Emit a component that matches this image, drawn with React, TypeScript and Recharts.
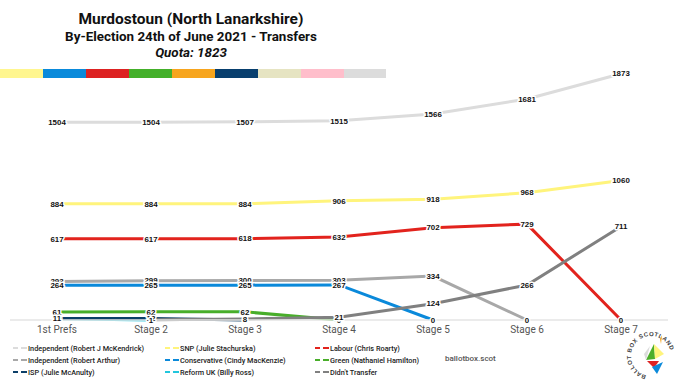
import React from 'react';
import { LineChart, Line, XAxis, YAxis } from 'recharts';

const categories = ['1st Prefs', 'Stage 2', 'Stage 3', 'Stage 4', 'Stage 5', 'Stage 6', 'Stage 7'];
const mckendrick = [1504, 1504, 1507, 1515, 1566, 1681, 1873];
const snp = [884, 884, 884, 906, 918, 968, 1060];
const labour = [617, 617, 618, 632, 702, 729, 0];
const arthur = [293, 299, 300, 303, 334, 0, null];
const conservative = [264, 265, 265, 267, 0, null, null];
const green = [61, 62, 62, 0, null, null, null];
const isp = [11, 12, 0, null, null, null, null];
const reform = [10, 0, null, null, null, null, null];
const didntTransfer = [null, 1, 8, 21, 124, 266, 711];

const seriesNames = [
  'Independent (Robert J McKendrick)',
  'SNP (Julie Stachurska)',
  'Labour (Chris Roarty)',
  'Independent (Robert Arthur)',
  'Conservative (Cindy MacKenzie)',
  'Green (Nathaniel Hamilton)',
  'ISP (Julie McAnulty)',
  'Reform UK (Billy Ross)',
  "Didn't Transfer",
];
const seriesColors = ['#dcdcdc', '#fff47c', '#e2231d', '#a8a8a8', '#0a89da', '#48ae2a', '#0c3f68', '#22c6dd', '#808080'];
const seriesValues = [mckendrick, snp, labour, arthur, conservative, green, isp, reform, didntTransfer];
const drawOrder = [0, 1, 2, 3, 4, 5, 7, 6, 8];

const stripeColors = ['#fff68f', '#0a8adb', '#dd2222', '#44b02a', '#f7a51e', '#083f6e', '#e6e4c2', '#ffbecb', '#dcdcdc'];

const data = categories.map((name, i) => {
  const row: any = { name };
  seriesValues.forEach((vals, s) => {
    row['s' + s] = vals[i];
  });
  return row;
});

const renderLabel = (props: any) => {
  const { x, y, value, index } = props;
  if (value === null || value === undefined || x == null || y == null) return null;
  const txt = String(value);
  return (
    <text
      key={'lb' + index}
      x={x}
      y={y}
      dy="0.35em"
      textAnchor="middle"
      fontSize={7.9}
      fontWeight="bold"
      fontFamily="'Liberation Sans', Arial, sans-serif"
      fill="#111"
      stroke="#ffffff"
      strokeWidth={3}
      strokeLinejoin="round"
      paintOrder="stroke"
    >
      {txt}
    </text>
  );
};

const LegendIcon = ({ color }: { color: string }) => (
  <svg width={14} height={6} style={{ display: 'block' }}>
    <line x1={0} y1={3} x2={5} y2={3} stroke={color} strokeWidth={2} />
    <line x1={8} y1={3} x2={14} y2={3} stroke={color} strokeWidth={2} />
  </svg>
);

const Logo = () => {
  const cx = 651, cy = 356, r = 20;
  const a0 = (100 * Math.PI) / 180;
  const sx = cx + r * Math.cos(a0), sy = cy + r * Math.sin(a0);
  const ex = cx - r * Math.cos(a0), ey = cy - r * Math.sin(a0);
  return (
    <svg width={678} height={381} style={{ position: 'absolute', left: 0, top: 0, pointerEvents: 'none' }}>
      <defs>
        <path id="logoCircle" d={`M ${sx} ${sy} A ${r} ${r} 0 1 1 ${ex} ${ey} A ${r} ${r} 0 1 1 ${sx} ${sy}`} />
      </defs>
      <text fontSize={6} fontWeight="bold" fontFamily="'Liberation Sans', Arial, sans-serif" fill="#444" letterSpacing={0.5}>
        <textPath href="#logoCircle" startOffset="1%">BALLOT BOX SCOTLAND</textPath>
      </text>
      <polygon points={`${cx - 5},${cy + 4} ${cx + 3},${cy - 12} ${cx + 4},${cy + 3}`} fill="#4cae2a" />
      <polygon points={`${cx + 3},${cy - 12} ${cx + 13},${cy - 2} ${cx + 4},${cy + 3}`} fill="#fff47c" />
      <polygon points={`${cx + 9},${cy - 17} ${cx + 11},${cy - 21} ${cx + 10},${cy - 12}`} fill="#f7a51e" />
      <polygon points={`${cx - 4},${cy + 5} ${cx + 8},${cy + 5} ${cx + 3},${cy + 12}`} fill="#dd2222" />
      <polygon points={`${cx + 1},${cy + 11} ${cx + 12},${cy + 6} ${cx + 6},${cy + 18}`} fill="#0a89da" />
      <polygon points={`${cx - 7},${cy - 2} ${cx - 1},${cy - 10} ${cx - 5},${cy + 4}`} fill="#dcdcdc" />
    </svg>
  );
};

export default function App() {
  const legendCols = [13, 165, 315];
  const legendRows = [348, 360, 372];
  return (
    <div style={{ position: 'absolute', left: 0, top: 0, width: 678, height: 381, background: '#fff', overflow: 'hidden', fontFamily: 'Roboto, sans-serif' }}>
      <div style={{ position: 'absolute', left: 0, width: 382, top: 10, textAlign: 'center', color: '#111' }}>
        <div style={{ fontSize: 15.5, fontWeight: 700, lineHeight: '19px' }}>Murdostoun (North Lanarkshire)</div>
        <div style={{ fontSize: 13.4, fontWeight: 700, lineHeight: '16px' }}>By-Election 24th of June 2021 - Transfers</div>
        <div style={{ fontSize: 13.4, fontWeight: 700, fontStyle: 'italic', lineHeight: '16px' }}>Quota: 1823</div>
      </div>
      <div style={{ position: 'absolute', left: 0, top: 69, display: 'flex' }}>
        {stripeColors.map((c, i) => (
          <div key={i} style={{ width: i === 8 ? 42 : 43, height: 9, background: c }} />
        ))}
      </div>
      <div style={{ position: 'absolute', left: 0, top: 0 }}>
        <LineChart width={678} height={381} data={data} margin={{ top: 57, right: 10, bottom: 41, left: 10 }}>
          <XAxis
            dataKey="name"
            padding={{ left: 47, right: 47 }}
            tickLine={false}
            tickSize={4}
            axisLine={{ stroke: '#e4e4e4', strokeWidth: 1.5 }}
            tick={{ fill: '#555', fontSize: 10, fontFamily: 'Roboto, sans-serif' }}
            height={20}
            interval={0}
          />
          <YAxis hide domain={[0, 2000]} width={0} />
          {drawOrder.map((s) => (
            <Line
              key={s}
              type="linear"
              dataKey={'s' + s}
              name={seriesNames[s]}
              stroke={seriesColors[s]}
              strokeWidth={3}
              dot={false}
              activeDot={false}
              isAnimationActive={false}
              connectNulls={false}
              label={renderLabel}
            />
          ))}
        </LineChart>
      </div>
      {seriesNames.map((n, i) => (
        <div
          key={n}
          style={{
            position: 'absolute',
            left: legendCols[i % 3],
            top: legendRows[Math.floor(i / 3)] - 6,
            display: 'flex',
            alignItems: 'center',
            height: 12,
            fontSize: 7.3,
            fontWeight: 500,
            color: '#222',
            whiteSpace: 'nowrap',
          }}
        >
          <LegendIcon color={seriesColors[i]} />
          <span style={{ marginLeft: 1 }}>{n}</span>
        </div>
      ))}
      <div style={{ position: 'absolute', left: 445, top: 354, fontSize: 8, fontWeight: 500, color: '#555', fontFamily: 'Roboto, sans-serif' }}>ballotbox.scot</div>
      <Logo />
    </div>
  );
}
